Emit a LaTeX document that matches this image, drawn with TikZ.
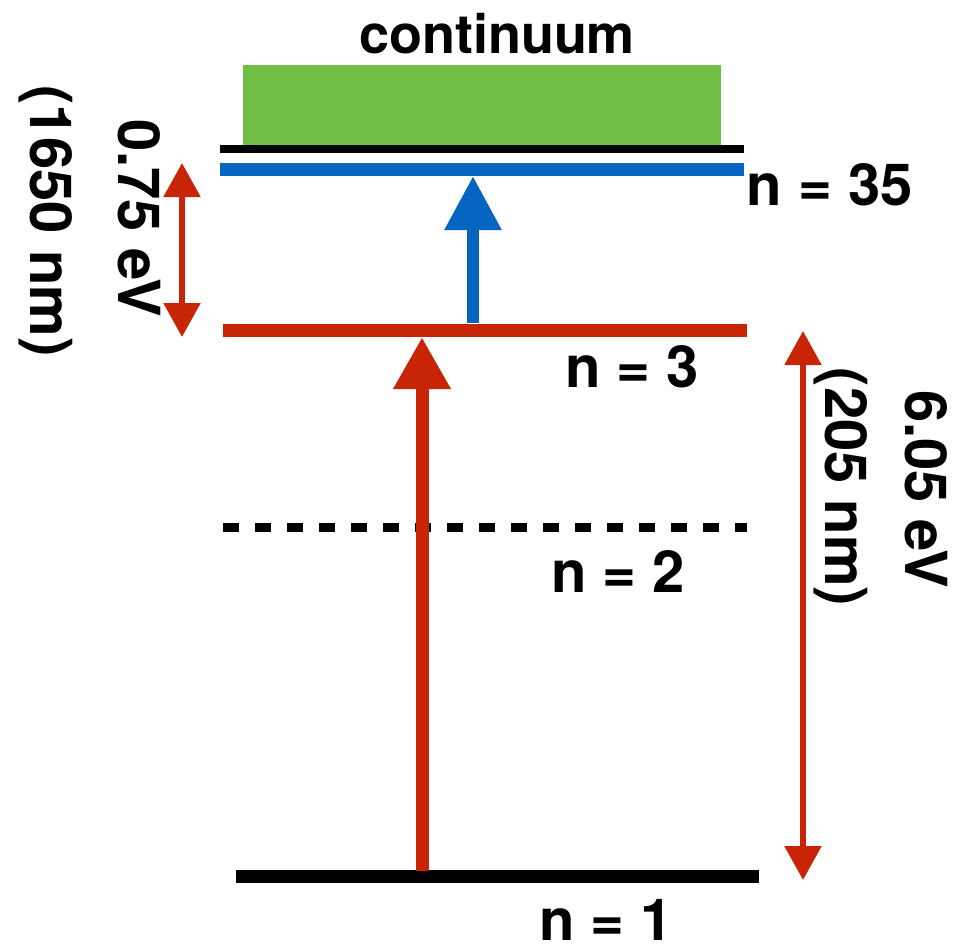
\documentclass[tikz,border=0pt]{standalone}
\usepackage{fontspec}
\setmainfont{TeX Gyre Heros}
\usetikzlibrary{arrows.meta}
\definecolor{cgreen}{RGB}{112,191,68}
\definecolor{cred}{RGB}{200,37,6}
\definecolor{cblue}{RGB}{5,101,192}
\tikzset{
  lbl/.style={inner sep=0pt, font=\fontsize{58}{60}\selectfont\bfseries},
  level/.style={line width=13pt},
  bigred/.style={draw=cred, line width=13pt, -{Triangle[length=52pt,width=54pt]}},
  bigblue/.style={draw=cblue, line width=12pt, -{Triangle[length=54pt,width=54pt]}},
  span/.style={draw=cred, line width=5.5pt, {Triangle[length=34pt,width=36pt]}-{Triangle[length=34pt,width=36pt]}}
}
\begin{document}
\begin{tikzpicture}[x=1pt,y=-1pt]
\useasboundingbox (0,0) rectangle (955,950);
% continuum
\fill[cgreen] (243,65) rectangle (721,146);
\node[lbl, anchor=base, font=\fontsize{54}{56}\selectfont\bfseries] (cont) at (497,53) {continuum};
% levels
\coordinate (ionL) at (220,149); \coordinate (ionR) at (744,149);
\draw[line width=8pt] (ionL) -- (ionR);
\coordinate (n35L) at (220,169.5); \coordinate (n35R) at (744,169.5);
\draw[level, cblue] (n35L) -- (n35R);
\coordinate (n3L) at (223,330); \coordinate (n3R) at (747,330);
\draw[level, cred] (n3L) -- (n3R);
\coordinate (n2L) at (223,527.5); \coordinate (n2R) at (747,527.5);
\draw[line width=9pt, dash pattern=on 16pt off 16pt] (n2L) -- (n2R);
\coordinate (n1L) at (236,876.5); \coordinate (n1R) at (759,876.5);
\draw[level, black] (n1L) -- (n1R);
% level labels
\node[lbl, anchor=base] (l35) at (829.5,205) {n = 35};
\node[lbl, anchor=base] (l3) at (632,387) {n = 3};
\node[lbl, anchor=base] (l2) at (618,592) {n = 2};
\node[lbl, anchor=base] (l1) at (606,940) {n = 1};
% transitions
\coordinate (rb) at (422,871); \coordinate (rt) at (422,337);
\draw[bigred] (rb) -- (rt);
\coordinate (bb) at (473,323); \coordinate (bt) at (473,176);
\draw[bigblue] (bb) -- (bt);
% energy spans
\coordinate (s1t) at (182,163); \coordinate (s1b) at (182,337);
\draw[span] (s1t) -- (s1b);
\coordinate (s2t) at (803,331); \coordinate (s2b) at (803,880);
\draw[span] (s2t) -- (s2b);
% rotated labels
\node[lbl, rotate=-90] (e1) at (139,218) {0.75 eV};
\node[lbl, rotate=-90] (w1) at (46,221) {(1650 nm)};
\node[lbl, rotate=-90] (w2) at (841,487) {(205 nm)};
\node[lbl, rotate=-90] (e2) at (926,489) {6.05 eV};
\end{tikzpicture}
\end{document}
